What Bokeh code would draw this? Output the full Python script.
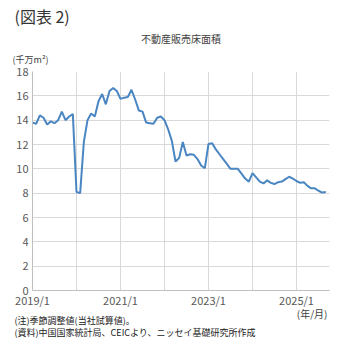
from bokeh.plotting import figure
from bokeh.models import Range1d, FixedTicker, Title, ColumnDataSource
from bokeh.embed import file_html
from bokeh.resources import INLINE

# Monthly data, 2019/1 .. 2025/9 (month index 0 = 2019/1)
months = list(range(81))
floor_area = [
    13.8, 13.7, 14.4, 14.2, 13.65, 13.9, 13.75, 14.0, 14.7, 14.0, 14.3, 14.5,   # 2019
    8.1, 8.0, 12.2, 14.0, 14.55, 14.3, 15.55, 16.15, 15.3, 16.4, 16.65, 16.4,   # 2020
    15.75, 15.85, 15.9, 16.5, 15.7, 14.8, 14.7, 13.8, 13.75, 13.7, 14.2, 14.3,  # 2021
    14.0, 13.25, 12.3, 10.6, 10.9, 12.2, 11.1, 11.2, 11.15, 10.8, 10.27, 10.05, # 2022
    12.05, 12.1, 11.6, 11.2, 10.8, 10.4, 10.0, 10.0, 10.0, 9.6, 9.2, 8.95,     # 2023
    9.65, 9.3, 8.95, 8.8, 9.05, 8.85, 8.75, 8.9, 8.95, 9.15, 9.35, 9.2,        # 2024
    9.0, 8.85, 8.9, 8.6, 8.4, 8.4, 8.2, 8.05, 8.1,                             # 2025
]
x_tick_pos = [0, 24, 48, 72]
x_tick_labels = ["2019/1", "2021/1", "2023/1", "2025/1"]
year_grid = [0, 12, 24, 36, 48, 60, 72]
y_ticks = [0, 2, 4, 6, 8, 10, 12, 14, 16, 18]

fig_label = "(図表 2)"
chart_title = "不動産販売床面積"
unit_label = "(千万m²)"
x_unit = "(年/月)"
note1 = "(注)季節調整値(当社試算値)。"
note2 = "(資料)中国国家統計局、CEICより、ニッセイ基礎研究所作成"

FONT = "Noto Sans CJK JP"

p = figure(width=355, height=353, output_backend="svg", toolbar_location=None,
           x_range=Range1d(0, 81), y_range=Range1d(0, 18),
           min_border_left=32, min_border_right=26, min_border_top=0, min_border_bottom=63)
p.outline_line_color = None
p.background_fill_color = "white"
p.border_fill_color = "white"

src = ColumnDataSource(dict(x=months, y=floor_area))
p.line("x", "y", source=src, line_color="#4a86c2", line_width=2)

# axes
p.xaxis.ticker = FixedTicker(ticks=x_tick_pos)
p.xaxis.major_label_overrides = {t: l for t, l in zip(x_tick_pos, x_tick_labels)}
p.xgrid.ticker = FixedTicker(ticks=year_grid)
p.yaxis.ticker = FixedTicker(ticks=y_ticks)
p.ygrid.ticker = FixedTicker(ticks=y_ticks)
for ax in (p.xaxis, p.yaxis):
    ax.axis_line_color = "#bfbfbf"
    ax.major_tick_line_color = None
    ax.minor_tick_line_color = None
    ax.major_tick_out = 0
    ax.major_tick_in = 0
    ax.minor_tick_out = 0
    ax.major_label_text_font = FONT
    ax.major_label_text_font_size = "11px"
    ax.major_label_text_color = "#595959"
p.xaxis.major_label_standoff = 1
p.yaxis.major_label_standoff = 4
p.xgrid.grid_line_color = "#d9d9d9"
p.ygrid.grid_line_color = "#d9d9d9"

FL, FR = 32, 329

def add_title(place, text, size, color, align, px, standoff, valign="bottom", lh=1.2):
    if align == "left":
        off = px - FL
    elif align == "right":
        off = FR - px
    else:
        off = px - (FL + FR) / 2
    p.add_layout(Title(text=text, align=align, offset=off, standoff=standoff,
                       vertical_align=valign, text_line_height=lh,
                       text_font=FONT, text_font_size=size, text_color=color,
                       text_font_style="normal"), place)

# above: first added sits closest to the frame
add_title("above", unit_label, "9px", "#404040", "left", 12, 7, "top", 2.2)
add_title("above", chart_title, "10px", "#404040", "center", 186, 3, "top")
add_title("above", fig_label, "16px", "#333333", "left", 14, 3)
# below
add_title("below", x_unit, "10px", "#404040", "right", 327, -13)
add_title("below", note1, "9px", "#222222", "left", 14, -6)
add_title("below", note2, "9px", "#222222", "left", 14, 0)

open("out.html", "w").write(file_html(p, INLINE))
